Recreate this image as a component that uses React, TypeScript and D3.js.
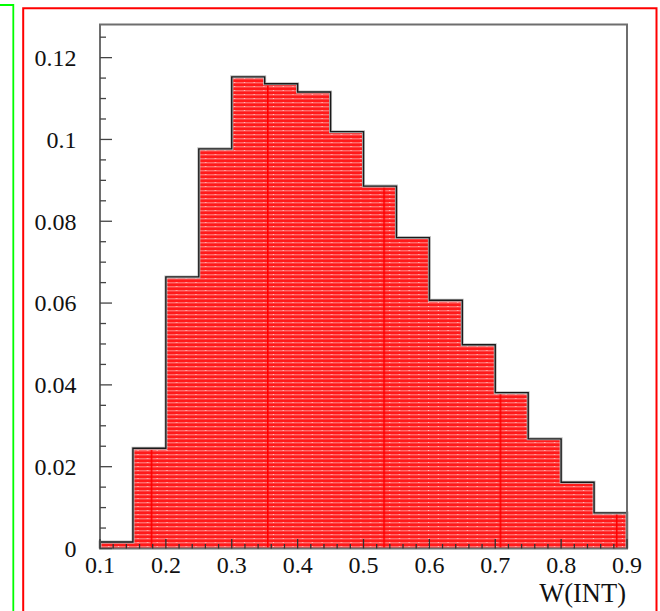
import React from "react";
import * as d3 from "d3";

const binLow = [0.1, 0.15, 0.2, 0.25, 0.3, 0.35, 0.4, 0.45, 0.5, 0.55, 0.6, 0.65, 0.7, 0.75, 0.8, 0.85];
const binWidth = 0.05;
const values = [0.0016, 0.0245, 0.0664, 0.0977, 0.1153, 0.1136, 0.1116, 0.1019, 0.0886, 0.076, 0.0607, 0.0498, 0.0381, 0.0268, 0.0162, 0.0087];
const xTickLabels = ["0.1", "0.2", "0.3", "0.4", "0.5", "0.6", "0.7", "0.8", "0.9"];
const yTickLabels = ["0", "0.02", "0.04", "0.06", "0.08", "0.1", "0.12"];
const xTitle = "W(INT)";

export default function App() {
  const W = 660, H = 611;
  const x = d3.scaleLinear().domain([0.1, 0.9]).range([100, 627]);
  const y = d3.scaleLinear().domain([0, 0.1281]).range([548.5, 24.5]);

  const pts: [number, number][] = binLow.map((b, i) => [b, values[i]]);
  pts.push([binLow[binLow.length - 1] + binWidth, values[values.length - 1]]);

  const area = d3.area<[number, number]>()
    .x(d => x(d[0]))
    .y0(y(0))
    .y1(d => y(d[1]))
    .curve(d3.curveStepAfter);

  const stepLine = d3.line<[number, number]>()
    .x(d => x(d[0]))
    .y(d => y(d[1]))
    .curve(d3.curveStepAfter);
  const first = pts[0], last = pts[pts.length - 1];
  const outline = `M${x(first[0])},${y(0)}L${x(first[0])},${y(first[1])}` +
    stepLine(pts)!.replace(/^M/, "L") + `L${x(last[0])},${y(0)}`;

  const xMinor = d3.range(0, 41).map(i => 0.1 + i * 0.02);
  const yMinor = d3.range(0, 26).map(i => i * 0.005);

  const font = "'Liberation Serif', 'Times New Roman', serif";
  const axisColor = "#6e6e6e";

  return (
    <svg width={W} height={H} style={{ position: "absolute", left: 0, top: 0, background: "#fff" }}>
      <defs>
        <pattern id="redfill" patternUnits="userSpaceOnUse" x={150.7} y={0} width={116.3} height={4}>
          <rect x={0} y={0} width={116.3} height={4} fill="#ff1a1a" />
          <rect x={0} y={2} width={116.3} height={1} fill="#ff6b6b" />
          <rect x={0} y={3} width={116.3} height={1} fill="#ff4040" />
          {d3.range(6, 116, 9.7).map((px, i) => (
            <rect key={i} x={px} y={2} width={1} height={1} fill="#ffd0d0" />
          ))}
          <rect x={0} y={0} width={1.6} height={4} fill="#ff0000" />
        </pattern>
      </defs>

      {/* green pad border */}
      <path d="M0,5 L13.3,5 L13.3,611" fill="none" stroke="#00ff00" strokeWidth={1.8} />
      {/* red pad border */}
      <path d="M23.2,611 L23.2,8.2 L656.5,8.2 L656.5,611" fill="none" stroke="#ff0000" strokeWidth={2} />

      {/* histogram fill */}
      <path d={area(pts)!} fill="url(#redfill)" />
      <path d={outline} fill="none" stroke="#bdbdbd" strokeWidth={3} />
      <path d={outline} fill="none" stroke="#1a1a1a" strokeWidth={1.4} />

      {/* frame */}
      <rect x={100} y={24.5} width={527} height={524} fill="none" stroke={axisColor} strokeWidth={2} />

      {/* y ticks */}
      {yMinor.map((v, i) => {
        const major = i % 4 === 0;
        return (
          <line key={"ym" + i} x1={100} x2={100 + (major ? 12 : 6)} y1={y(v)} y2={y(v)}
            stroke="#444" strokeWidth={1.3} />
        );
      })}
      {/* x ticks */}
      {xMinor.map((v, i) => {
        const major = i % 5 === 0;
        return (
          <line key={"xm" + i} x1={x(v)} x2={x(v)} y1={548.5} y2={548.5 - (major ? 9.5 : 4.5)}
            stroke="#333" strokeWidth={1.3} />
        );
      })}

      {/* y labels */}
      {yTickLabels.map((t, i) => (
        <text key={"yl" + i} x={76.5} y={y(i * 0.02)} dy="0.35em" textAnchor="end"
          fontFamily={font} fontSize={24} fill="#111">{t}</text>
      ))}
      {/* x labels */}
      {xTickLabels.map((t, i) => (
        <text key={"xl" + i} x={x(0.1 + i * 0.1)} y={572.5} textAnchor="middle"
          fontFamily={font} fontSize={24} fill="#111">{t}</text>
      ))}
      <text x={626} y={602} textAnchor="end" fontFamily={font} fontSize={26.5} fill="#111">{xTitle}</text>
    </svg>
  );
}
